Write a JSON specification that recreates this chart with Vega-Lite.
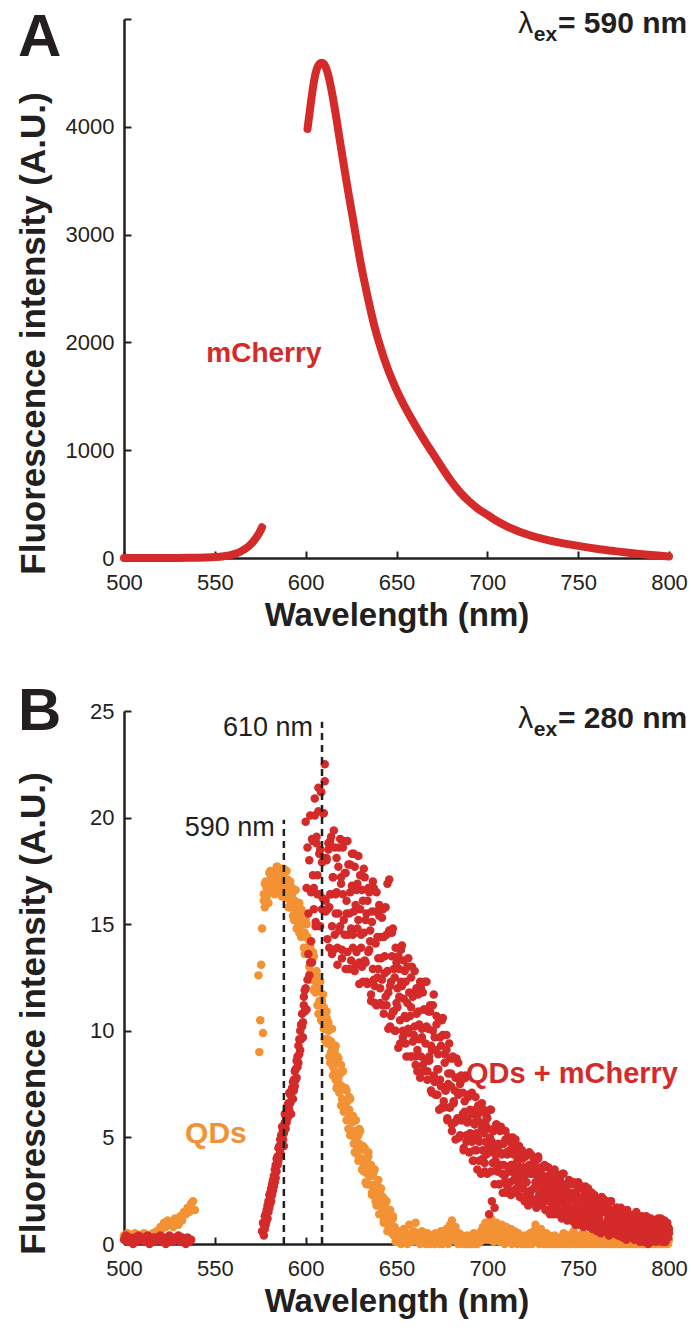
{
 "$schema": "https://vega.github.io/schema/vega-lite/v6.json",
 "padding": {"left": 15, "top": 7, "right": 5, "bottom": 5},
 "bounds": "flush",
 "spacing": 153,
 "config": {
  "view": {"stroke": null},
  "font": "Liberation Sans",
  "axis": {"grid": false, "domainColor": "#231f20", "domainWidth": 2.5, "tickColor": "#231f20", "tickWidth": 2, "tickSize": -7, "labelColor": "#231f20", "titleColor": "#231f20", "labelFont": "Liberation Sans", "titleFont": "Liberation Sans", "labelFontSize": 22, "titleFontSize": 33, "titleFontWeight": "bold", "labelFlush": false}
 },
 "datasets": {
  "a": [
   {"x":500,"y":0,"g":1},{"x":505,"y":0,"g":1},{"x":510,"y":0,"g":1},{"x":515,"y":0,"g":1},{"x":520,"y":0,"g":1},{"x":525,"y":0,"g":1},{"x":530,"y":1,"g":1},{"x":535,"y":2,"g":1},{"x":540,"y":3,"g":1},{"x":545,"y":5,"g":1},{"x":550,"y":9,"g":1},{"x":555,"y":17,"g":1},{"x":558,"y":25,"g":1},{"x":561,"y":38,"g":1},{"x":564,"y":58,"g":1},{"x":567,"y":88,"g":1},{"x":569,"y":115,"g":1},{"x":571,"y":150,"g":1},{"x":573,"y":195,"g":1},{"x":575,"y":250,"g":1},{"x":576,"y":285,"g":1},
   {"x":601,"y":3980,"g":2},{"x":602,"y":4110,"g":2},{"x":603,"y":4240,"g":2},{"x":604,"y":4360,"g":2},{"x":605,"y":4460,"g":2},{"x":606,"y":4530,"g":2},{"x":607,"y":4570,"g":2},{"x":608,"y":4590,"g":2},{"x":609,"y":4595,"g":2},{"x":610,"y":4585,"g":2},{"x":611,"y":4555,"g":2},{"x":612,"y":4505,"g":2},{"x":613,"y":4440,"g":2},{"x":614,"y":4360,"g":2},{"x":615,"y":4270,"g":2},{"x":616,"y":4170,"g":2},{"x":617,"y":4070,"g":2},{"x":618,"y":3960,"g":2},{"x":620,"y":3750,"g":2},{"x":622,"y":3540,"g":2},{"x":624,"y":3340,"g":2},{"x":626,"y":3150,"g":2},{"x":628,"y":2950,"g":2},{"x":630,"y":2760,"g":2},{"x":632,"y":2590,"g":2},{"x":634,"y":2430,"g":2},{"x":636,"y":2280,"g":2},{"x":638,"y":2140,"g":2},{"x":640,"y":2020,"g":2},{"x":643,"y":1860,"g":2},{"x":646,"y":1720,"g":2},{"x":650,"y":1560,"g":2},{"x":655,"y":1390,"g":2},{"x":660,"y":1240,"g":2},{"x":665,"y":1100,"g":2},{"x":670,"y":970,"g":2},{"x":675,"y":840,"g":2},{"x":680,"y":715,"g":2},{"x":685,"y":610,"g":2},{"x":690,"y":525,"g":2},{"x":695,"y":455,"g":2},{"x":700,"y":400,"g":2},{"x":705,"y":345,"g":2},{"x":710,"y":300,"g":2},{"x":715,"y":262,"g":2},{"x":720,"y":230,"g":2},{"x":730,"y":180,"g":2},{"x":740,"y":142,"g":2},{"x":750,"y":112,"g":2},{"x":760,"y":86,"g":2},{"x":770,"y":64,"g":2},{"x":780,"y":44,"g":2},{"x":790,"y":27,"g":2},{"x":800,"y":14,"g":2}
  ],
  "b": [
   {"x":500,"q":0.4,"r":0.2},{"x":501,"q":0.2,"r":0.4},{"x":502,"q":0.5,"r":0.1},{"x":503,"q":0.3,"r":0.3},{"x":504,"q":0.4,"r":0.2},{"x":505,"q":0.2,"r":0.0},{"x":506,"q":0.5,"r":0.3},{"x":507,"q":0.3,"r":0.1},{"x":508,"q":0.4,"r":0.4},{"x":509,"q":0.2,"r":0.2},{"x":510,"q":0.3,"r":0.3},{"x":511,"q":0.5,"r":0.1},{"x":512,"q":0.3,"r":0.2},{"x":513,"q":0.2,"r":0.4},{"x":514,"q":0.4,"r":0.0},{"x":515,"q":0.3,"r":0.2},{"x":516,"q":0.5,"r":0.3},{"x":517,"q":0.4,"r":0.1},{"x":518,"q":0.6,"r":0.3},{"x":519,"q":0.5,"r":0.2},{"x":520,"q":0.8,"r":0.4},{"x":521,"q":0.7,"r":0.1},{"x":522,"q":1.0,"r":0.3},{"x":523,"q":0.8,"r":0.0},{"x":524,"q":1.1,"r":0.2},{"x":525,"q":0.9,"r":0.4},{"x":526,"q":1.0,"r":0.2},{"x":527,"q":0.8,"r":0.1},{"x":528,"q":1.2,"r":0.3},{"x":529,"q":1.0,"r":0.2},{"x":530,"q":0.9,"r":0.4},{"x":531,"q":1.3,"r":0.1},{"x":532,"q":1.1,"r":0.3},{"x":533,"q":1.5,"r":0.2},{"x":534,"q":1.4,"r":0.0},{"x":535,"q":1.7,"r":0.3},{"x":536,"q":1.5,"r":0.1},{"x":537,"q":1.9,"r":0.2},{"x":538,"q":2.0},{"x":539,"q":1.6},
   {"x":574,"q":12.6},{"x":574.5,"q":9.0},{"x":575,"q":10.5},{"x":575.5,"q":13.1},{"x":576,"q":14.8,"r":0.6},{"x":576.5,"q":9.9,"r":1.0},
   {"x":577,"q":16.4,"q2":16.1,"r":0.4,"r2":0.9},{"x":577.5,"q":15.8,"q2":16.9,"r":1.3,"r2":0.7},{"x":578,"q":17.0,"q2":16.1,"r":0.9,"r2":1.4},{"x":578.5,"q":16.3,"q2":16.7,"r":1.6,"r2":1.1},{"x":579,"q":16.9,"q2":16.0,"r":1.2,"r2":1.8},{"x":579.5,"q":16.0,"q2":16.8,"r":2.0,"r2":1.5},{"x":580,"q":16.8,"q2":17.4,"r":1.7,"r2":2.3},{"x":580.5,"q":17.5,"q2":16.5,"r":2.4,"r2":1.9},{"x":581,"q":16.5,"q2":17.2,"r":2.0,"r2":2.6},{"x":581.5,"q":16.8,"q2":16.8,"r":2.8,"r2":2.3},{"x":582,"q":17.4,"q2":16.5,"r":2.5,"r2":3.0},{"x":582.5,"q":16.5,"q2":17.4,"r":3.2,"r2":2.7},{"x":583,"q":17.3,"q2":16.4,"r":2.9,"r2":3.5},{"x":583.5,"q":16.9,"q2":17.3,"r":3.7,"r2":3.1},{"x":584,"q":17.7,"q2":17.0,"r":3.4,"r2":4.0},{"x":584.5,"q":16.7,"q2":17.7,"r":4.1,"r2":3.7},{"x":585,"q":17.3,"q2":16.9,"r":3.9,"r2":4.5},{"x":585.5,"q":16.8,"q2":17.2,"r":4.6,"r2":4.1},{"x":586,"q":17.5,"q2":17.6,"r":4.3,"r2":4.9},{"x":586.5,"q":17.1,"q2":16.5,"r":5.1,"r2":4.6},{"x":587,"q":16.3,"q2":17.3,"r":4.8,"r2":5.5},{"x":587.5,"q":17.5,"q2":16.8,"r":5.3,"r2":4.9},{"x":588,"q":16.8,"q2":17.6,"r":4.6,"r2":5.2},{"x":588.5,"q":16.3,"q2":16.3,"r":5.7,"r2":6.1},{"x":589,"q":17.1,"q2":16.9,"r":5.4,"r2":6.0},{"x":589.5,"q":17.5,"q2":16.4,"r":6.2,"r2":5.7},{"x":590,"q":16.2,"q2":17.1,"r":5.9,"r2":6.5},{"x":590.5,"q":16.7,"q2":15.8,"r":6.6,"r2":6.1},{"x":591,"q":15.8,"q2":16.4,"r":6.3,"r2":7.1},{"x":591.5,"q":16.8,"q2":17.0,"r":7.0,"r2":6.6},{"x":592,"q":16.0,"q2":15.8,"r":6.1,"r2":7.0},{"x":592.5,"q":16.7,"q2":16.4,"r":7.3,"r2":6.8},{"x":593,"q":16.0,"q2":15.4,"r":6.8,"r2":7.6},{"x":593.5,"q":15.2,"q2":16.6,"r":7.7,"r2":7.2},{"x":594,"q":16.1,"q2":15.7,"r":7.4,"r2":8.1},{"x":594.5,"q":16.6,"q2":15.8,"r":8.2,"r2":7.7},{"x":595,"q":15.2,"q2":14.8,"r":7.8,"r2":8.6},{"x":595.5,"q":15.6,"q2":15.9,"r":8.8,"r2":8.3},{"x":596,"q":15.9,"q2":15.0,"r":8.5,"r2":9.3},{"x":596.5,"q":14.6,"q2":16.0,"r":9.6,"r2":8.9},{"x":597,"q":14.9,"q2":15.3,"r":9.1,"r2":10.0},{"x":597.5,"q":15.7,"q2":14.4,"r":10.3,"r2":9.6},{"x":598,"q":14.5,"q2":15.6,"r":10.2,"r2":10.8},{"x":598.5,"q":15.0,"q2":14.5,"r":9.7,"r2":10.4},{"x":599,"q":13.9,"q2":15.0,"r":11.6,"r2":11.2},{"x":599.5,"q":14.6,"q2":13.6,"r":10.9,"r2":11.9},
   {"x":600,"q":15.2,"q2":14.4,"r":12.0,"r2":19.8},{"x":600.5,"q":13.7,"q2":15.0,"r":11.0,"r2":16.7},{"x":601,"q":14.4,"q2":13.6,"r":12.4,"r2":18.6},{"x":601.5,"q":13.7,"q2":13.7,"r":13.6,"r2":15.5},{"x":602,"q":13.0,"q2":14.2,"r":12.6,"r2":18.0},{"x":602.5,"q":14.0,"q2":12.7,"r":13.2,"r2":20.1},{"x":603,"q":12.4,"q2":13.6,"r":14.2,"r2":16.5},{"x":603.5,"q":13.3,"q2":12.7,"r":13.2,"r2":19.0},{"x":604,"q":12.6,"q2":13.7,"r":18.9,"r2":17.3},{"x":604.5,"q":13.5,"q2":11.9,"r":16.7,"r2":15.7},{"x":605,"q":12.0,"q2":12.6,"r":20.9,"r2":20.1},{"x":605.5,"q":12.3,"q2":11.8,"r":15.1,"r2":14.9},{"x":606,"q":12.8,"q2":12.6,"r":18.8,"r2":19.1},{"x":606.5,"q":11.2,"q2":11.9,"r":16.4,"r2":17.3},{"x":607,"q":12.1,"q2":10.8,"r":20.3,"r2":21.4},{"x":607.5,"q":11.4,"q2":12.3,"r":18.3,"r2":16.4},{"x":608,"q":12.3,"q2":11.2,"r":14.9,"r2":18.5},{"x":608.5,"q":10.6,"q2":10.5,"r":21.2,"r2":21.2},{"x":609,"q":11.2,"q2":11.4,"r":17.9,"r2":15.7},{"x":609.5,"q":10.4,"q2":11.7,"r":16.2,"r2":20.2},
   {"x":610,"q":11.1,"q2":10.1,"r":20.2,"r2":18.1},{"x":610.5,"q":9.6,"q2":10.6,"r":21.7,"r2":22.5},{"x":611,"q":10.2,"q2":9.5,"r":16.1,"r2":15.6},{"x":611.5,"q":10.9,"q2":10.6,"r":18.0,"r2":18.1},{"x":612,"q":9.4,"q2":9.6,"r":14.3,"r2":15.7},{"x":612.5,"q":10.0,"q2":10.4,"r":18.5,"r2":18.8},{"x":613,"q":8.8,"q2":9.5,"r":15.8,"r2":13.9},{"x":613.5,"q":10.1,"q2":8.5,"r":18.9,"r2":16.4},{"x":614,"q":9.0,"q2":9.5,"r":16.4,"r2":19.1},{"x":614.5,"q":9.2,"q2":10.1,"r":13.6,"r2":14.9},{"x":615,"q":7.9,"q2":8.3,"r":17.2,"r2":17.2},{"x":615.5,"q":9.2,"q2":8.8,"r":19.4,"r2":13.8},{"x":616,"q":8.1,"q2":9.1,"r":14.5,"r2":18.6},{"x":616.5,"q":9.3,"q2":7.7,"r":16.4,"r2":15.5},{"x":617,"q":8.5,"q2":7.3,"r":18.1,"r2":16.5},{"x":617.5,"q":7.4,"q2":8.8,"r":13.9,"r2":13.1},{"x":618,"q":8.7,"q2":7.8,"r":15.5,"r2":17.7},{"x":618.5,"q":7.5,"q2":7.1,"r":18.6,"r2":14.7},{"x":619,"q":8.0,"q2":8.0,"r":14.9,"r2":19.0},{"x":619.5,"q":6.5,"q2":8.4,"r":17.2,"r2":16.9},
   {"x":620,"q":7.4,"q2":6.8,"r":13.4,"r2":13.8},{"x":620.5,"q":8.1,"q2":7.3,"r":16.4,"r2":18.6},{"x":621,"q":6.6,"q2":6.2,"r":18.9,"r2":15.2},{"x":621.5,"q":6.7,"q2":7.3,"r":14.5,"r2":17.4},{"x":622,"q":7.3,"q2":6.4,"r":17.4,"r2":12.9},{"x":622.5,"q":5.8,"q2":7.2,"r":15.5,"r2":16.1},{"x":623,"q":6.7,"q2":6.3,"r":13.7,"r2":18.9},{"x":623.5,"q":5.9,"q2":5.4,"r":17.8,"r2":14.5},{"x":624,"q":6.9,"q2":6.3,"r":12.9,"r2":15.5},{"x":624.5,"q":5.1,"q2":6.8,"r":16.5,"r2":17.8},{"x":625,"q":5.9,"q2":5.2,"r":14.8,"r2":13.3},{"x":625.5,"q":5.1,"q2":5.7,"r":18.3,"r2":16.8},{"x":626,"q":6.0,"q2":6.0,"r":13.9,"r2":14.5},{"x":626.5,"q":5.3,"q2":4.7,"r":15.6,"r2":18.3},{"x":627,"q":4.3,"q2":5.0,"r":17.7,"r2":12.8},{"x":627.5,"q":5.8,"q2":5.8,"r":13.1,"r2":15.9},{"x":628,"q":4.8,"q2":4.6,"r":16.6,"r2":13.7},{"x":628.5,"q":4.2,"q2":5.1,"r":14.8,"r2":16.9},{"x":629,"q":5.1,"q2":3.9,"r":18.2,"r2":15.2},{"x":629.5,"q":5.4,"q2":4.7,"r":13.2,"r2":12.2},
   {"x":630,"q":4.0,"q2":5.3,"r":15.7,"r2":17.3},{"x":630.5,"q":4.5,"q2":3.9,"r":13.9,"r2":14.5},{"x":631,"q":3.5,"q2":4.6,"r":16.6,"r2":13.0},{"x":631.5,"q":4.6,"q2":4.0,"r":12.3,"r2":16.1},{"x":632,"q":3.7,"q2":3.4,"r":14.6,"r2":17.6},{"x":632.5,"q":4.5,"q2":4.4,"r":17.2,"r2":13.3},{"x":633,"q":3.7,"q2":2.9,"r":13.2,"r2":15.2},{"x":633.5,"q":2.8,"q2":3.9,"r":15.5,"r2":12.3},{"x":634,"q":3.8,"q2":3.3,"r":12.2,"r2":16.1},{"x":634.5,"q":4.3,"q2":4.1,"r":16.7,"r2":13.7},{"x":635,"q":2.8,"q2":2.8,"r":13.8,"r2":16.5},{"x":635.5,"q":3.2,"q2":3.2,"r":14.7,"r2":14.2},{"x":636,"q":3.6,"q2":3.7,"r":11.4,"r2":11.7},{"x":636.5,"q":2.4,"q2":2.3,"r":15.6,"r2":15.1},{"x":637,"q":2.7,"q2":3.2,"r":12.9,"r2":17.0},{"x":637.5,"q":3.4,"q2":2.6,"r":16.7,"r2":12.4},{"x":638,"q":2.3,"q2":3.5,"r":11.3,"r2":12.1},{"x":638.5,"q":2.8,"q2":2.0,"r":14.1,"r2":15.6},{"x":639,"q":1.8,"q2":2.6,"r":16.5,"r2":11.2},{"x":639.5,"q":2.4,"q2":2.1,"r":12.5,"r2":14.4},
   {"x":640,"q":3.0,"q2":2.7,"r":13.4,"r2":12.9},{"x":640.5,"q":1.8,"q2":1.4,"r":15.4,"r2":15.9},{"x":641,"q":2.4,"q2":2.0,"r":11.3,"r2":12.0},{"x":641.5,"q":1.9,"q2":2.6,"r":14.4,"r2":13.4},{"x":642,"q":1.4,"q2":1.5,"r":12.4,"r2":15.3},{"x":642.5,"q":2.2,"q2":2.0,"r":15.7,"r2":11.2},{"x":643,"q":1.0,"q2":1.1,"r":10.8,"r2":14.4},{"x":643.5,"q":1.8,"q2":2.1,"r":13.5,"r2":12.7},{"x":644,"q":1.3,"q2":1.3,"r":11.6,"r2":15.8},{"x":644.5,"q":2.0,"q2":1.5,"r":14.5,"r2":11.2},{"x":645,"q":0.9,"q2":0.6,"r":12.8,"r2":16.9},{"x":645.5,"q":1.2,"q2":1.5,"r":10.1,"r2":11.8},{"x":646,"q":1.6,"q2":0.8,"r":14.7,"r2":17.1},{"x":646.5,"q":0.6,"q2":1.6,"r":12.1,"r2":10.2},{"x":647,"q":1.2,"q2":1.1,"r":10.7,"r2":12.3},{"x":647.5,"q":0.8,"q2":0.5,"r":13.5,"r2":14.6},{"x":648,"q":1.3,"q2":1.2,"r":14.8,"r2":10.9},{"x":648.5,"q":0.4,"q2":0.6,"r":10.9,"r2":12.9},{"x":649,"q":0.7,"q2":0.8,"r":12.5,"r2":10.0},{"x":649.5,"q":0.4,"q2":0.1,"r":10.0,"r2":13.9},
   {"x":650,"q":0.2,"r":13.2,"r2":11.3},{"x":650.5,"q":0.5,"r":11.1,"r2":12.0},{"x":651,"q":0.1,"r":13.5,"r2":9.2},{"x":651.5,"q":0.3,"r":11.6,"r2":12.9},{"x":652,"q":0.6,"r":9.4,"r2":10.5},{"x":652.5,"q":0.0,"r":12.3,"r2":13.8},{"x":653,"q":0.4,"r":14.0,"r2":12.1},{"x":653.5,"q":0.2,"r":10.0,"r2":9.7},{"x":654,"q":0.7,"r":11.5,"r2":13.3},{"x":654.5,"q":0.1,"r":12.8,"r2":10.7},{"x":655,"q":0.3,"r":9.4,"r2":12.3},{"x":655.5,"q":0.5,"r":10.6,"r2":8.8},{"x":656,"q":0.0,"r":13.0,"r2":11.3},{"x":656.5,"q":0.4,"r":10.1,"r2":13.4},{"x":657,"q":0.9,"r":11.8,"r2":9.9},{"x":657.5,"q":0.2,"r":8.8,"r2":10.7},{"x":658,"q":0.5,"r":11.1,"r2":12.5},{"x":658.5,"q":0.1,"r":13.0,"r2":8.8},{"x":659,"q":0.3,"r":9.5,"r2":11.6},{"x":659.5,"q":0.6,"r":11.8,"r2":9.8},
   {"x":660,"q":0.2,"r":10.2,"r2":12.8},{"x":660.5,"q":1.0,"r":8.8,"r2":8.4},{"x":661,"q":0.4,"r":12.0,"r2":10.8},{"x":661.5,"q":0.1,"r":8.1,"r2":9.1},{"x":662,"q":0.3,"r":10.9,"r2":11.7},{"x":662.5,"q":0.5,"r":9.6,"r2":10.3},{"x":663,"q":0.0,"r":12.3,"r2":7.8},{"x":663.5,"q":0.2,"r":8.8,"r2":12.0},{"x":664,"q":0.6,"r":10.1,"r2":9.7},{"x":664.5,"q":0.3,"r":11.8,"r2":8.4},{"x":665,"q":0.1,"r":8.1,"r2":11.0},{"x":665.5,"q":0.4,"r":11.0,"r2":12.3},{"x":666,"q":0.0,"r":9.4,"r2":8.6},{"x":666.5,"q":0.2,"r":12.3,"r2":10.2},{"x":667,"q":0.5,"r":8.1,"r2":7.7},{"x":667.5,"q":0.1,"r":10.1,"r2":10.9},{"x":668,"q":0.3,"r":8.6,"r2":8.8},{"x":668.5,"q":0.0,"r":10.9,"r2":11.2},{"x":669,"q":0.4,"r":7.2,"r2":9.3},{"x":669.5,"q":0.2,"r":9.1,"r2":7.1},
   {"x":670,"q":0.1,"r":11.2,"r2":10.0},{"x":670.5,"q":0.3,"r":7.9,"r2":11.7},{"x":671,"q":0.0,"r":9.7,"r2":7.6},{"x":671.5,"q":0.5,"r":7.0,"r2":9.1},{"x":672,"q":0.2,"r":10.7,"r2":10.3},{"x":672.5,"q":0.1,"r":8.2,"r2":7.0},{"x":673,"q":0.4,"r":8.9,"r2":8.2},{"x":673.5,"q":0.0,"r":6.3,"r2":10.5},{"x":674,"q":0.3,"r":9.7,"r2":7.7},{"x":674.5,"q":0.6,"r":7.4,"r2":9.3},{"x":675,"q":0.2,"r":10.5,"r2":6.4},{"x":675.5,"q":0.0,"r":9.8,"r2":10.6},{"x":676,"q":0.4,"r":6.4,"r2":6.7},{"x":676.5,"q":0.1,"r":8.9,"r2":8.5},{"x":677,"q":0.3,"r":7.2,"r2":7.2},{"x":677.5,"q":0.7,"r":9.8,"r2":9.1},{"x":678,"q":0.2,"r":5.9,"r2":5.8},{"x":678.5,"q":0.0,"r":8.0,"r2":7.5},{"x":679,"q":0.5,"r":6.4,"r2":9.4},{"x":679.5,"q":0.9,"r":8.7,"r2":6.4},
   {"x":680,"q":0.3,"r":7.4,"r2":8.0},{"x":680.5,"q":1.1,"r":5.3,"r2":5.6},{"x":681,"q":0.6,"r":8.7,"r2":8.8},{"x":681.5,"q":0.2,"r":6.7,"r2":6.6},{"x":682,"q":0.4,"r":5.7,"r2":7.2},{"x":682.5,"q":0.8,"r":7.8,"r2":4.9},{"x":683,"q":0.1,"r":8.7,"r2":7.8},{"x":683.5,"q":0.3,"r":5.8,"r2":5.9},{"x":684,"q":0.0,"r":7.0,"r2":8.5},{"x":684.5,"q":0.5,"r":5.0,"r2":7.1},{"x":685,"q":0.2,"r":7.5,"r2":5.1},{"x":685.5,"q":0.1,"r":5.8,"r2":7.9},{"x":686,"q":0.4,"r":7.7,"r2":5.8},{"x":686.5,"q":0.0,"r":6.1,"r2":7.1},{"x":687,"q":0.3,"r":4.5,"r2":4.4},{"x":687.5,"q":0.1,"r":6.7,"r2":6.2},{"x":688,"q":0.2,"r":7.9,"r2":7.8},{"x":688.5,"q":0.0,"r":4.8,"r2":5.1},{"x":689,"q":0.4,"r":5.9,"r2":5.7},{"x":689.5,"q":0.1,"r":6.9,"r2":7.0},
   {"x":690,"q":0.0,"r":4.3,"r2":4.3},{"x":690.5,"q":0.3,"r":5.2,"r2":6.3},{"x":691,"q":0.1,"r":7.0,"r2":5.0},{"x":691.5,"q":0.0,"r":4.8,"r2":7.1},{"x":692,"q":0.2,"r":6.1,"r2":3.9},{"x":692.5,"q":0.5,"r":3.9,"r2":5.7},{"x":693,"q":0.0,"r":5.6,"r2":4.4},{"x":693.5,"q":0.1,"r":6.9,"r2":6.3},{"x":694,"q":0.3,"r":4.4,"r2":5.2},{"x":694.5,"q":0.0,"r":6.0,"r2":3.5},{"x":695,"q":0.2,"r":4.9,"r2":6.5},{"x":695.5,"q":0.4,"r":3.9,"r2":4.8},{"x":696,"q":0.1,"r":6.2,"r2":3.9},{"x":696.5,"q":0.6,"r":3.3,"r2":5.7},{"x":697,"q":0.3,"r":5.4,"r2":6.6},{"x":697.5,"q":0.8,"r":4.4,"r2":4.0},{"x":698,"q":0.2,"r":6.3,"r2":5.2},{"x":698.5,"q":0.5,"r":3.8,"r2":3.4},{"x":699,"q":1.0,"r":4.8,"r2":5.6},{"x":699.5,"q":0.4,"r":6.0,"r2":4.2},
   {"x":700,"q":0.7,"r":3.3,"r2":5.9},{"x":700.5,"q":0.2,"r":5.4,"r2":4.5},{"x":701,"q":0.9,"r":4.3,"r2":1.4},{"x":701.5,"q":0.5,"r":6.3,"r2":5.0},{"x":702,"q":1.2,"r":3.4,"r2":6.3},{"x":702.5,"q":0.3,"r":4.8,"r2":2.0},{"x":703,"q":0.6,"r":3.8,"r2":4.5},{"x":703.5,"q":0.1,"r":5.3,"r2":5.4},{"x":704,"q":0.8,"r":2.8,"r2":1.7},{"x":704.5,"q":0.4,"r":4.2,"r2":3.9},{"x":705,"q":1.0,"r":5.6,"r2":5.6},{"x":705.5,"q":0.2,"r":3.4,"r2":3.6},{"x":706,"q":0.5,"r":4.6,"r2":4.7},{"x":706.5,"q":0.7,"r":2.8,"r2":2.8},{"x":707,"q":0.1,"r":5.3,"r2":4.3},{"x":707.5,"q":0.4,"r":3.7,"r2":5.5},{"x":708,"q":0.9,"r":4.2,"r2":3.3},{"x":708.5,"q":0.3,"r":2.4,"r2":4.7},{"x":709,"q":0.6,"r":4.7,"r2":3.7},{"x":709.5,"q":0.0,"r":3.2,"r2":2.9},
   {"x":710,"q":0.4,"r":5.3,"r2":4.9},{"x":710.5,"q":0.8,"r":4.3,"r2":2.4},{"x":711,"q":0.2,"r":2.7,"r2":4.2},{"x":711.5,"q":0.5,"r":5.0,"r2":3.4},{"x":712,"q":0.1,"r":3.4,"r2":5.0},{"x":712.5,"q":0.3,"r":4.4,"r2":2.9},{"x":713,"q":0.7,"r":2.3,"r2":3.7},{"x":713.5,"q":0.0,"r":3.7,"r2":4.7},{"x":714,"q":0.4,"r":5.0,"r2":2.5},{"x":714.5,"q":0.2,"r":3.0,"r2":4.2},{"x":715,"q":0.6,"r":3.4,"r2":3.3},{"x":715.5,"q":0.1,"r":4.4,"r2":4.9},{"x":716,"q":0.3,"r":2.4,"r2":2.6},{"x":716.5,"q":0.0,"r":3.9,"r2":3.7},{"x":717,"q":0.5,"r":3.0,"r2":2.9},{"x":717.5,"q":0.2,"r":4.6,"r2":4.2},{"x":718,"q":0.1,"r":2.2,"r2":2.2},{"x":718.5,"q":0.4,"r":3.5,"r2":3.2},{"x":719,"q":0.0,"r":2.6,"r2":4.4},{"x":719.5,"q":0.3,"r":4.0,"r2":2.6},
   {"x":720,"q":0.2,"r":3.2,"r2":3.6},{"x":720.5,"q":0.0,"r":2.0,"r2":2.2},{"x":721,"q":0.4,"r":4.1,"r2":4.2},{"x":721.5,"q":0.1,"r":2.9,"r2":2.9},{"x":722,"q":0.3,"r":2.3,"r2":3.3},{"x":722.5,"q":0.0,"r":3.6,"r2":1.8},{"x":723,"q":0.2,"r":4.3,"r2":3.7},{"x":723.5,"q":0.5,"r":2.4,"r2":2.5},{"x":724,"q":0.1,"r":3.3,"r2":4.2},{"x":724.5,"q":0.0,"r":2.0,"r2":3.3},{"x":725,"q":0.3,"r":3.6,"r2":2.1},{"x":725.5,"q":0.6,"r":2.6,"r2":4.0},{"x":726,"q":0.2,"r":3.8,"r2":2.6},{"x":726.5,"q":0.9,"r":2.9,"r2":3.5},{"x":727,"q":0.4,"r":1.8,"r2":1.7},{"x":727.5,"q":0.1,"r":3.2,"r2":3.0},{"x":728,"q":0.5,"r":4.1,"r2":4.0},{"x":728.5,"q":0.0,"r":2.1,"r2":2.3},{"x":729,"q":0.3,"r":2.9,"r2":2.7},{"x":729.5,"q":0.7,"r":3.5,"r2":3.6},
   {"x":730,"q":0.2,"r":1.9,"r2":1.8},{"x":730.5,"q":0.4,"r":2.5,"r2":3.2},{"x":731,"q":0.0,"r":3.6,"r2":2.3},{"x":731.5,"q":0.3,"r":2.2,"r2":3.7},{"x":732,"q":0.1,"r":3.0,"r2":1.6},{"x":732.5,"q":0.5,"r":1.6,"r2":2.8},{"x":733,"q":0.0,"r":2.7,"r2":2.0},{"x":733.5,"q":0.2,"r":3.6,"r2":3.2},{"x":734,"q":0.4,"r":2.0,"r2":2.5},{"x":734.5,"q":0.0,"r":3.1,"r2":1.4},{"x":735,"q":0.1,"r":2.3,"r2":3.3},{"x":735.5,"q":0.3,"r":1.7,"r2":2.3},{"x":736,"q":0.0,"r":3.2,"r2":1.7},{"x":736.5,"q":0.2,"r":1.4,"r2":2.9},{"x":737,"q":0.4,"r":2.7,"r2":3.5},{"x":737.5,"q":0.1,"r":2.1,"r2":1.8},{"x":738,"q":0.0,"r":3.3,"r2":2.5},{"x":738.5,"q":0.3,"r":1.7,"r2":1.4},{"x":739,"q":0.2,"r":2.3,"r2":2.9},{"x":739.5,"q":0.0,"r":3.1,"r2":1.9},
   {"x":740,"q":0.1,"r":1.4,"r2":3.0},{"x":740.5,"q":0.3,"r":2.7,"r2":2.2},{"x":741,"q":0.0,"r":2.0,"r2":1.2},{"x":741.5,"q":0.2,"r":3.3,"r2":2.5},{"x":742,"q":0.5,"r":1.5,"r2":3.3},{"x":742.5,"q":0.1,"r":2.4,"r2":1.5},{"x":743,"q":0.0,"r":1.7,"r2":2.2},{"x":743.5,"q":0.3,"r":2.7,"r2":2.8},{"x":744,"q":0.1,"r":1.1,"r2":1.3},{"x":744.5,"q":0.4,"r":2.0,"r2":1.8},{"x":745,"q":0.0,"r":3.0,"r2":2.9},{"x":745.5,"q":0.2,"r":1.5,"r2":1.6},{"x":746,"q":0.0,"r":2.3,"r2":2.4},{"x":746.5,"q":0.3,"r":1.1,"r2":1.1},{"x":747,"q":0.1,"r":2.8,"r2":2.1},{"x":747.5,"q":0.6,"r":1.7,"r2":2.9},{"x":748,"q":0.2,"r":2.1,"r2":1.4},{"x":748.5,"q":0.0,"r":0.9,"r2":2.4},{"x":749,"q":0.4,"r":2.4,"r2":1.8},{"x":749.5,"q":0.1,"r":1.4,"r2":1.2},
   {"x":750,"q":0.0,"r":2.9,"r2":2.6},{"x":750.5,"q":0.3,"r":2.1,"r2":0.9},{"x":751,"q":0.1,"r":1.1,"r2":2.1},{"x":751.5,"q":0.0,"r":2.7,"r2":1.5},{"x":752,"q":0.2,"r":1.5,"r2":2.7},{"x":752.5,"q":0.5,"r":2.2,"r2":1.2},{"x":753,"q":0.0,"r":0.8,"r2":1.8},{"x":753.5,"q":0.2,"r":1.8,"r2":2.5},{"x":754,"q":0.1,"r":2.7,"r2":0.9},{"x":754.5,"q":0.4,"r":1.2,"r2":2.1},{"x":755,"q":0.0,"r":1.6,"r2":1.5},{"x":755.5,"q":0.2,"r":2.3,"r2":2.6},{"x":756,"q":0.3,"r":0.8,"r2":1.0},{"x":756.5,"q":0.0,"r":1.9,"r2":1.8},{"x":757,"q":0.1,"r":1.2,"r2":1.2},{"x":757.5,"q":0.4,"r":2.4,"r2":2.1},{"x":758,"q":0.0,"r":0.7,"r2":0.7},{"x":758.5,"q":0.2,"r":1.7,"r2":1.4},{"x":759,"q":0.1,"r":1.0,"r2":2.3},{"x":759.5,"q":0.0,"r":2.0,"r2":1.0},
   {"x":760,"q":0.3,"r":1.4,"r2":1.7},{"x":760.5,"q":0.1,"r":0.6,"r2":0.7},{"x":761,"q":0.0,"r":2.1,"r2":2.1},{"x":761.5,"q":0.2,"r":1.2,"r2":1.2},{"x":762,"q":0.4,"r":0.8,"r2":1.5},{"x":762.5,"q":0.0,"r":1.7,"r2":0.5},{"x":763,"q":0.1,"r":2.2,"r2":1.8},{"x":763.5,"q":0.3,"r":0.9,"r2":0.9},{"x":764,"q":0.0,"r":1.5,"r2":2.1},{"x":764.5,"q":0.2,"r":0.6,"r2":1.5},{"x":765,"q":0.1,"r":1.7,"r2":0.7},{"x":765.5,"q":0.5,"r":1.0,"r2":2.0},{"x":766,"q":0.0,"r":1.8,"r2":1.0},{"x":766.5,"q":0.2,"r":1.2,"r2":1.6},{"x":767,"q":0.1,"r":0.5,"r2":0.4},{"x":767.5,"q":0.0,"r":1.4,"r2":1.3},{"x":768,"q":0.3,"r":2.0,"r2":2.0},{"x":768.5,"q":0.1,"r":0.7,"r2":0.8},{"x":769,"q":0.0,"r":1.2,"r2":1.1},{"x":769.5,"q":0.2,"r":1.6,"r2":1.6},
   {"x":770,"q":0.4,"r":0.5,"r2":0.5},{"x":770.5,"q":0.0,"r":0.9,"r2":1.4},{"x":771,"q":0.1,"r":1.7,"r2":0.8},{"x":771.5,"q":0.3,"r":0.8,"r2":1.7},{"x":772,"q":0.0,"r":1.3,"r2":0.4},{"x":772.5,"q":0.2,"r":0.4,"r2":1.1},{"x":773,"q":0.1,"r":1.1,"r2":0.6},{"x":773.5,"q":0.0,"r":1.7,"r2":1.4},{"x":774,"q":0.3,"r":0.6,"r2":1.0},{"x":774.5,"q":0.1,"r":1.3,"r2":0.3},{"x":775,"q":0.0,"r":0.9,"r2":1.5},{"x":775.5,"q":0.2,"r":0.4,"r2":0.8},{"x":776,"q":0.4,"r":1.4,"r2":0.5},{"x":776.5,"q":0.0,"r":0.2,"r2":1.2},{"x":777,"q":0.1,"r":1.1,"r2":1.6},{"x":777.5,"q":0.3,"r":0.7,"r2":0.5},{"x":778,"q":0.0,"r":1.4,"r2":1.0},{"x":778.5,"q":0.2,"r":0.5,"r2":0.3},{"x":779,"q":0.1,"r":0.8,"r2":1.2},{"x":779.5,"q":0.0,"r":1.3,"r2":0.6},
   {"x":780,"q":0.3,"r":0.3,"r2":1.3},{"x":780.5,"q":0.1,"r":1.1,"r2":0.8},{"x":781,"q":0.0,"r":0.7,"r2":0.2},{"x":781.5,"q":0.2,"r":1.4,"r2":1.0},{"x":782,"q":0.4,"r":0.3,"r2":1.5},{"x":782.5,"q":0.0,"r":0.9,"r2":0.3},{"x":783,"q":0.1,"r":0.5,"r2":0.8},{"x":783.5,"q":0.2,"r":1.1,"r2":1.1},{"x":784,"q":0.0,"r":0.1,"r2":0.2},{"x":784.5,"q":0.3,"r":0.7,"r2":0.6},{"x":785,"q":0.1,"r":1.3,"r2":1.2},{"x":785.5,"q":0.0,"r":0.4,"r2":0.4},{"x":786,"q":0.2,"r":0.9,"r2":0.9},{"x":786.5,"q":0.0,"r":0.1,"r2":0.1},{"x":787,"q":0.3,"r":1.2,"r2":0.8},{"x":787.5,"q":0.1,"r":0.5,"r2":1.3},{"x":788,"q":0.0,"r":0.7,"r2":0.4},{"x":788.5,"q":0.2,"r":0.0,"r2":1.0},{"x":789,"q":0.1,"r":1.0,"r2":0.6},{"x":789.5,"q":0.0,"r":0.4,"r2":0.2},
   {"x":790,"q":0.3,"r":1.2,"r2":1.0},{"x":790.5,"q":0.1,"r":0.8,"r2":0.1},{"x":791,"q":0.0,"r":0.2,"r2":0.8},{"x":791.5,"q":0.2,"r":1.1,"r2":0.5},{"x":792,"q":0.0,"r":0.5,"r2":1.1},{"x":792.5,"q":0.1,"r":0.9,"r2":0.3},{"x":793,"q":0.3,"r":0.1,"r2":0.6},{"x":793.5,"q":0.0,"r":0.7,"r2":1.0},{"x":794,"q":0.2,"r":1.2,"r2":0.2},{"x":794.5,"q":0.1,"r":0.4,"r2":0.9},{"x":795,"q":0.0,"r":0.5,"r2":0.5},{"x":795.5,"q":0.2,"r":1.0,"r2":1.2},{"x":796,"q":0.1,"r":0.1,"r2":0.2},{"x":796.5,"q":0.0,"r":0.8,"r2":0.7},{"x":797,"q":0.3,"r":0.4,"r2":0.4},{"x":797.5,"q":0.1,"r":1.1,"r2":0.9},{"x":798,"q":0.0,"r":0.1,"r2":0.1},{"x":798.5,"q":0.2,"r":0.6,"r2":0.5},{"x":799,"q":0.1,"r":0.3,"r2":1.0},{"x":799.5,"q":0.0,"r":0.8,"r2":0.3},{"x":800,"q":0.2,"r":0.5,"r2":0.7}
  ]
 },
 "vconcat": [
  {
   "width": 545,
   "height": 539,
   "layer": [
    {
     "data": {"name": "a"},
     "mark": {"type": "line", "color": "#d42a2a", "strokeWidth": 8, "strokeCap": "round", "strokeJoin": "round", "interpolate": "monotone"},
     "encoding": {
      "x": {"field": "x", "type": "quantitative", "scale": {"domain": [500, 800], "nice": false}, "title": "Wavelength (nm)",
            "axis": {"values": [500, 550, 600, 650, 700, 750, 800], "format": "d", "labelPadding": 21, "titleY": 67, "titleBaseline": "alphabetic"}},
      "y": {"field": "y", "type": "quantitative", "scale": {"domain": [0, 5000], "nice": false}, "title": "Fluorescence intensity (A.U.)",
            "axis": {"values": [0, 1000, 2000, 3000, 4000, 5000], "format": "d", "labelExpr": "datum.value == 5000 ? '' : datum.label", "labelPadding": 17, "titleFontSize": 35, "titleX": -80, "titleY": 314, "titleBaseline": "alphabetic", "titleAlign": "center", "titleAngle": 270}},
      "detail": {"field": "g", "type": "nominal"}
     }
    },
    {
     "data": {"values": [{"x": 577, "y": 1893, "t": "mCherry"}]},
     "mark": {"type": "text", "font": "Liberation Sans", "fontSize": 28, "fontWeight": "bold", "color": "#d42a2a", "align": "center", "baseline": "middle", "clip": false},
     "encoding": {"x": {"field": "x", "type": "quantitative", "scale": {"domain": [500, 800], "nice": false}, "title": "Wavelength (nm)"}, "y": {"field": "y", "type": "quantitative", "scale": {"domain": [0, 5000], "nice": false}, "title": "Fluorescence intensity (A.U.)"}, "text": {"field": "t"}}
    },
    {
     "data": {"values": [{"x": 441.65, "y": 4657, "t": "A"}]},
     "mark": {"type": "text", "font": "Liberation Sans", "fontSize": 60, "fontWeight": "bold", "color": "#231f20", "align": "left", "baseline": "alphabetic", "clip": false},
     "encoding": {"x": {"field": "x", "type": "quantitative", "scale": {"domain": [500, 800], "nice": false}, "title": "Wavelength (nm)"}, "y": {"field": "y", "type": "quantitative", "scale": {"domain": [0, 5000], "nice": false}, "title": "Fluorescence intensity (A.U.)"}, "text": {"field": "t"}}
    },
    {
     "data": {"values": [{"x": 810, "y": 4870, "t": "= 590 nm"}]},
     "mark": {"type": "text", "font": "Liberation Sans", "fontSize": 30, "fontWeight": "bold", "color": "#231f20", "align": "right", "baseline": "alphabetic", "clip": false},
     "encoding": {"x": {"field": "x", "type": "quantitative", "scale": {"domain": [500, 800], "nice": false}, "title": "Wavelength (nm)"}, "y": {"field": "y", "type": "quantitative", "scale": {"domain": [0, 5000], "nice": false}, "title": "Fluorescence intensity (A.U.)"}, "text": {"field": "t"}}
    },
    {
     "data": {"values": [{"x": 810, "y": 4870, "t": "ex"}]},
     "mark": {"type": "text", "font": "Liberation Sans", "fontSize": 21, "fontWeight": "bold", "color": "#231f20", "align": "right", "baseline": "alphabetic", "dx": -130, "dy": 8, "clip": false},
     "encoding": {"x": {"field": "x", "type": "quantitative", "scale": {"domain": [500, 800], "nice": false}, "title": "Wavelength (nm)"}, "y": {"field": "y", "type": "quantitative", "scale": {"domain": [0, 5000], "nice": false}, "title": "Fluorescence intensity (A.U.)"}, "text": {"field": "t"}}
    },
    {
     "data": {"values": [{"x": 810, "y": 4870, "t": "λ"}]},
     "mark": {"type": "text", "font": "Liberation Sans", "fontSize": 30, "fontWeight": "normal", "color": "#231f20", "align": "right", "baseline": "alphabetic", "dx": -154, "clip": false},
     "encoding": {"x": {"field": "x", "type": "quantitative", "scale": {"domain": [500, 800], "nice": false}, "title": "Wavelength (nm)"}, "y": {"field": "y", "type": "quantitative", "scale": {"domain": [0, 5000], "nice": false}, "title": "Fluorescence intensity (A.U.)"}, "text": {"field": "t"}}
    }
   ]
  },
  {
   "width": 545,
   "height": 533,
   "layer": [
    {
     "data": {"name": "b"},
     "mark": {"type": "point", "filled": true, "size": 72, "opacity": 1, "color": "#f39234"},
     "encoding": {
      "x": {"field": "x", "type": "quantitative", "scale": {"domain": [500, 800], "nice": false}, "title": "Wavelength (nm)",
            "axis": {"values": [500, 550, 600, 650, 700, 750, 800], "format": "d", "labelPadding": 21, "titleY": 67, "titleBaseline": "alphabetic"}},
      "y": {"field": "q", "type": "quantitative", "scale": {"domain": [0, 25], "nice": false}, "title": "Fluorescence intensity (A.U.)",
            "axis": {"values": [0, 5, 10, 15, 20, 25], "format": "d", "labelPadding": 17, "titleFontSize": 35, "titleX": -80, "titleY": 302, "titleBaseline": "alphabetic", "titleAlign": "center", "titleAngle": 270}}
     }
    },
    {
     "data": {"name": "b"},
     "mark": {"type": "point", "filled": true, "size": 72, "opacity": 1, "color": "#f39234"},
     "encoding": {
      "x": {"field": "x", "type": "quantitative", "scale": {"domain": [500, 800], "nice": false}, "title": "Wavelength (nm)"},
      "y": {"field": "q2", "type": "quantitative", "scale": {"domain": [0, 25], "nice": false}, "title": "Fluorescence intensity (A.U.)"}
     }
    },
    {
     "data": {"name": "b"},
     "mark": {"type": "point", "filled": true, "size": 72, "opacity": 1, "color": "#d42a2a"},
     "encoding": {
      "x": {"field": "x", "type": "quantitative", "scale": {"domain": [500, 800], "nice": false}, "title": "Wavelength (nm)"},
      "y": {"field": "r", "type": "quantitative", "scale": {"domain": [0, 25], "nice": false}, "title": "Fluorescence intensity (A.U.)"}
     }
    },
    {
     "data": {"name": "b"},
     "mark": {"type": "point", "filled": true, "size": 72, "opacity": 1, "color": "#d42a2a"},
     "encoding": {
      "x": {"field": "x", "type": "quantitative", "scale": {"domain": [500, 800], "nice": false}, "title": "Wavelength (nm)"},
      "y": {"field": "r2", "type": "quantitative", "scale": {"domain": [0, 25], "nice": false}, "title": "Fluorescence intensity (A.U.)"}
     }
    },
    {
     "data": {"values": [{"x": 588, "y": 0, "y2": 19.9}, {"x": 609, "y": 0, "y2": 24.5}]},
     "mark": {"type": "rule", "color": "#231f20", "strokeWidth": 2.5, "strokeDash": [7, 5]},
     "encoding": {
      "x": {"field": "x", "type": "quantitative", "scale": {"domain": [500, 800], "nice": false}, "title": "Wavelength (nm)"},
      "y": {"field": "y", "type": "quantitative", "scale": {"domain": [0, 25], "nice": false}, "title": "Fluorescence intensity (A.U.)"},
      "y2": {"field": "y2"}
     }
    },
    {
     "data": {"values": [{"x": 588, "y": 19.5, "t": "590 nm"}, {"x": 609, "y": 24.2, "t": "610 nm"}]},
     "mark": {"type": "text", "font": "Liberation Sans", "fontSize": 27, "color": "#231f20", "align": "right", "baseline": "middle", "dx": -9, "clip": false},
     "encoding": {"x": {"field": "x", "type": "quantitative", "scale": {"domain": [500, 800], "nice": false}, "title": "Wavelength (nm)"}, "y": {"field": "y", "type": "quantitative", "scale": {"domain": [0, 25], "nice": false}, "title": "Fluorescence intensity (A.U.)"}, "text": {"field": "t"}}
    },
    {
     "data": {"values": [{"x": 550.6, "y": 5.16, "t": "QDs"}]},
     "mark": {"type": "text", "font": "Liberation Sans", "fontSize": 30, "fontWeight": "bold", "color": "#f39234", "align": "center", "baseline": "middle", "clip": false},
     "encoding": {"x": {"field": "x", "type": "quantitative", "scale": {"domain": [500, 800], "nice": false}, "title": "Wavelength (nm)"}, "y": {"field": "y", "type": "quantitative", "scale": {"domain": [0, 25], "nice": false}, "title": "Fluorescence intensity (A.U.)"}, "text": {"field": "t"}}
    },
    {
     "data": {"values": [{"x": 746.6, "y": 7.97, "t": "QDs + mCherry"}]},
     "mark": {"type": "text", "font": "Liberation Sans", "fontSize": 29, "fontWeight": "bold", "color": "#d42a2a", "align": "center", "baseline": "middle", "clip": false},
     "encoding": {"x": {"field": "x", "type": "quantitative", "scale": {"domain": [500, 800], "nice": false}, "title": "Wavelength (nm)"}, "y": {"field": "y", "type": "quantitative", "scale": {"domain": [0, 25], "nice": false}, "title": "Fluorescence intensity (A.U.)"}, "text": {"field": "t"}}
    },
    {
     "data": {"values": [{"x": 441.65, "y": 24.11, "t": "B"}]},
     "mark": {"type": "text", "font": "Liberation Sans", "fontSize": 60, "fontWeight": "bold", "color": "#231f20", "align": "left", "baseline": "alphabetic", "clip": false},
     "encoding": {"x": {"field": "x", "type": "quantitative", "scale": {"domain": [500, 800], "nice": false}, "title": "Wavelength (nm)"}, "y": {"field": "y", "type": "quantitative", "scale": {"domain": [0, 25], "nice": false}, "title": "Fluorescence intensity (A.U.)"}, "text": {"field": "t"}}
    },
    {
     "data": {"values": [{"x": 810, "y": 24.2, "t": "= 280 nm"}]},
     "mark": {"type": "text", "font": "Liberation Sans", "fontSize": 30, "fontWeight": "bold", "color": "#231f20", "align": "right", "baseline": "alphabetic", "clip": false},
     "encoding": {"x": {"field": "x", "type": "quantitative", "scale": {"domain": [500, 800], "nice": false}, "title": "Wavelength (nm)"}, "y": {"field": "y", "type": "quantitative", "scale": {"domain": [0, 25], "nice": false}, "title": "Fluorescence intensity (A.U.)"}, "text": {"field": "t"}}
    },
    {
     "data": {"values": [{"x": 810, "y": 24.2, "t": "ex"}]},
     "mark": {"type": "text", "font": "Liberation Sans", "fontSize": 21, "fontWeight": "bold", "color": "#231f20", "align": "right", "baseline": "alphabetic", "dx": -130, "dy": 8, "clip": false},
     "encoding": {"x": {"field": "x", "type": "quantitative", "scale": {"domain": [500, 800], "nice": false}, "title": "Wavelength (nm)"}, "y": {"field": "y", "type": "quantitative", "scale": {"domain": [0, 25], "nice": false}, "title": "Fluorescence intensity (A.U.)"}, "text": {"field": "t"}}
    },
    {
     "data": {"values": [{"x": 810, "y": 24.2, "t": "λ"}]},
     "mark": {"type": "text", "font": "Liberation Sans", "fontSize": 30, "fontWeight": "normal", "color": "#231f20", "align": "right", "baseline": "alphabetic", "dx": -154, "clip": false},
     "encoding": {"x": {"field": "x", "type": "quantitative", "scale": {"domain": [500, 800], "nice": false}, "title": "Wavelength (nm)"}, "y": {"field": "y", "type": "quantitative", "scale": {"domain": [0, 25], "nice": false}, "title": "Fluorescence intensity (A.U.)"}, "text": {"field": "t"}}
    }
   ]
  }
 ]
}
